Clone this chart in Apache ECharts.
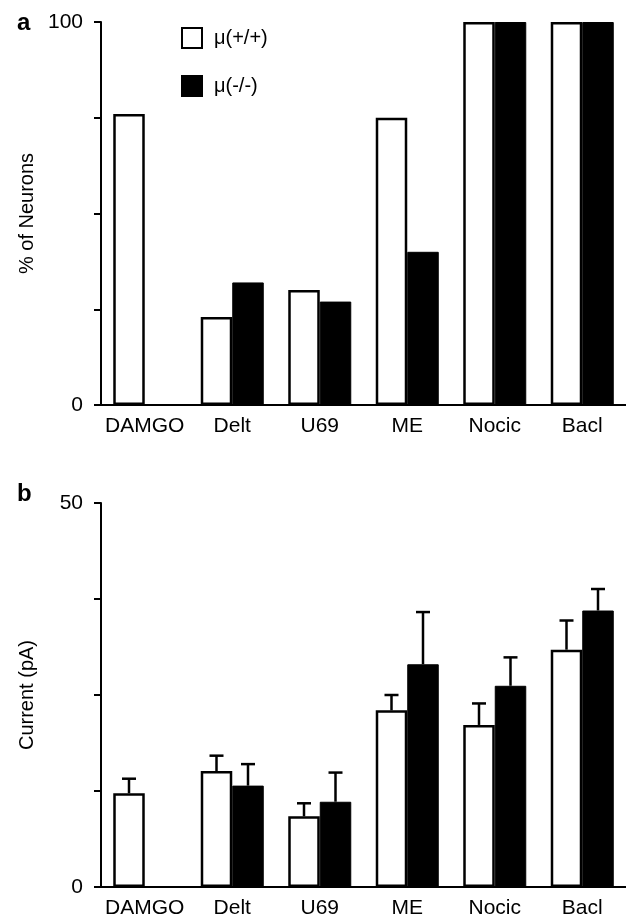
<!DOCTYPE html>
<html>
<head>
<meta charset="utf-8">
<script src="https://cdn.jsdelivr.net/npm/echarts@6/dist/echarts.min.js"></script>
<style>html,body{margin:0;padding:0;background:#fff}#c{width:626px;height:922px}</style>
</head>
<body>
<div id="c"></div>
<script>
const categories = ['DAMGO', 'Delt', 'U69', 'ME', 'Nocic', 'Bacl'];
const seriesNames = ['μ(+/+)', 'μ(-/-)'];
// Panel a: % of neurons responding
const pctWT = [76, 23, 30, 75, 100, 100];
const pctKO = [0, 32, 27, 40, 100, 100];
// Panel b: current (pA), mean and SEM
const curWT = [12.2, 15.1, 9.2, 23.0, 21.1, 30.9];
const semWT = [1.9, 2.0, 1.7, 2.0, 2.8, 3.8];
const curKO = [null, 13.2, 11.1, 29.0, 26.2, 36.0];
const semKO = [null, 2.8, 3.8, 6.8, 3.7, 2.8];
const yTicksA = [0, 100];
const yTicksB = [0, 50];

const FONT = "'Liberation Sans', Arial, sans-serif";
const GAP = 0.28;

function errSeries(means, sems, side) {
  const data = [];
  means.forEach((m, i) => { if (m != null) data.push([i, m, sems[i]]); });
  return {
    type: 'custom', xAxisIndex: 1, yAxisIndex: 1, silent: true, z: 1,
    data: data,
    renderItem: function (params, api) {
      const x = api.value(0), m = api.value(1), s = api.value(2);
      const band = api.size([1, 0])[0];
      const bw = band * (1 - GAP) / 2;
      const base = api.coord([x, m]);
      const top = api.coord([x, m + s]);
      const cx = base[0] + side * bw / 2;
      const st = { stroke: '#000', lineWidth: 2.5 };
      return {
        type: 'group',
        children: [
          { type: 'line', shape: { x1: cx, y1: base[1], x2: cx, y2: top[1] }, style: st },
          { type: 'line', shape: { x1: cx - 7, y1: top[1], x2: cx + 7, y2: top[1] }, style: st }
        ]
      };
    }
  };
}

const xAxisCommon = {
  type: 'category', data: categories,
  axisLine: { lineStyle: { color: '#000', width: 2 } },
  axisTick: { show: false },
  axisLabel: { color: '#000', fontSize: 21, fontFamily: FONT, margin: 11, interval: 0 }
};
function yAxis(max, interval, ticks, name, gridIndex) {
  return {
    type: 'value', gridIndex: gridIndex, min: 0, max: max, interval: interval,
    name: name, nameLocation: 'middle', nameGap: 64,
    nameTextStyle: { color: '#000', fontSize: 20, fontFamily: FONT },
    splitLine: { show: false },
    axisLine: { show: true, lineStyle: { color: '#000', width: 2 } },
    axisTick: { show: true, length: 7, lineStyle: { color: '#000', width: 2 } },
    axisLabel: {
      color: '#000', fontSize: 21, fontFamily: FONT, margin: 18,
      formatter: v => ticks.indexOf(v) >= 0 ? String(v) : ''
    }
  };
}

const whiteStyle = { color: '#fff', borderColor: '#000', borderWidth: 2.5 };
const blackStyle = { color: '#000', borderColor: '#000', borderWidth: 1 };

const chart = echarts.init(document.getElementById('c'));
chart.setOption({
  animation: false,
  backgroundColor: '#fff',
  title: [
    { text: 'a', left: 12, top: 6, textStyle: { fontSize: 24, fontWeight: 'bold', color: '#000', fontFamily: FONT } },
    { text: 'b', left: 12, top: 477, textStyle: { fontSize: 24, fontWeight: 'bold', color: '#000', fontFamily: FONT } }
  ],
  legend: {
    data: seriesNames, orient: 'vertical', left: 181, top: 27, padding: 0,
    itemWidth: 20, itemHeight: 20, itemGap: 26, icon: 'rect',
    textStyle: { fontSize: 20, color: '#000', fontFamily: FONT, padding: [0, 0, 0, 7] }
  },
  grid: [
    { left: 101, right: 0, top: 22, height: 383 },
    { left: 101, right: 0, top: 503, height: 384 }
  ],
  xAxis: [
    Object.assign({ gridIndex: 0 }, xAxisCommon),
    Object.assign({ gridIndex: 1 }, xAxisCommon)
  ],
  yAxis: [
    yAxis(100, 25, yTicksA, '% of Neurons', 0),
    yAxis(50, 12.5, yTicksB, 'Current (pA)', 1)
  ],
  series: [
    { name: seriesNames[0], type: 'bar', xAxisIndex: 0, yAxisIndex: 0, data: pctWT,
      barGap: '0%', barCategoryGap: (GAP * 100) + '%', itemStyle: whiteStyle, z: 2 },
    { name: seriesNames[1], type: 'bar', xAxisIndex: 0, yAxisIndex: 0, data: pctKO,
      barGap: '0%', barCategoryGap: (GAP * 100) + '%', itemStyle: blackStyle, z: 2 },
    { name: seriesNames[0], type: 'bar', xAxisIndex: 1, yAxisIndex: 1, data: curWT,
      barGap: '0%', barCategoryGap: (GAP * 100) + '%', itemStyle: whiteStyle, z: 2 },
    { name: seriesNames[1], type: 'bar', xAxisIndex: 1, yAxisIndex: 1, data: curKO,
      barGap: '0%', barCategoryGap: (GAP * 100) + '%', itemStyle: blackStyle, z: 2 },
    errSeries(curWT, semWT, -1),
    errSeries(curKO, semKO, 1)
  ]
});
</script>
</body>
</html>
